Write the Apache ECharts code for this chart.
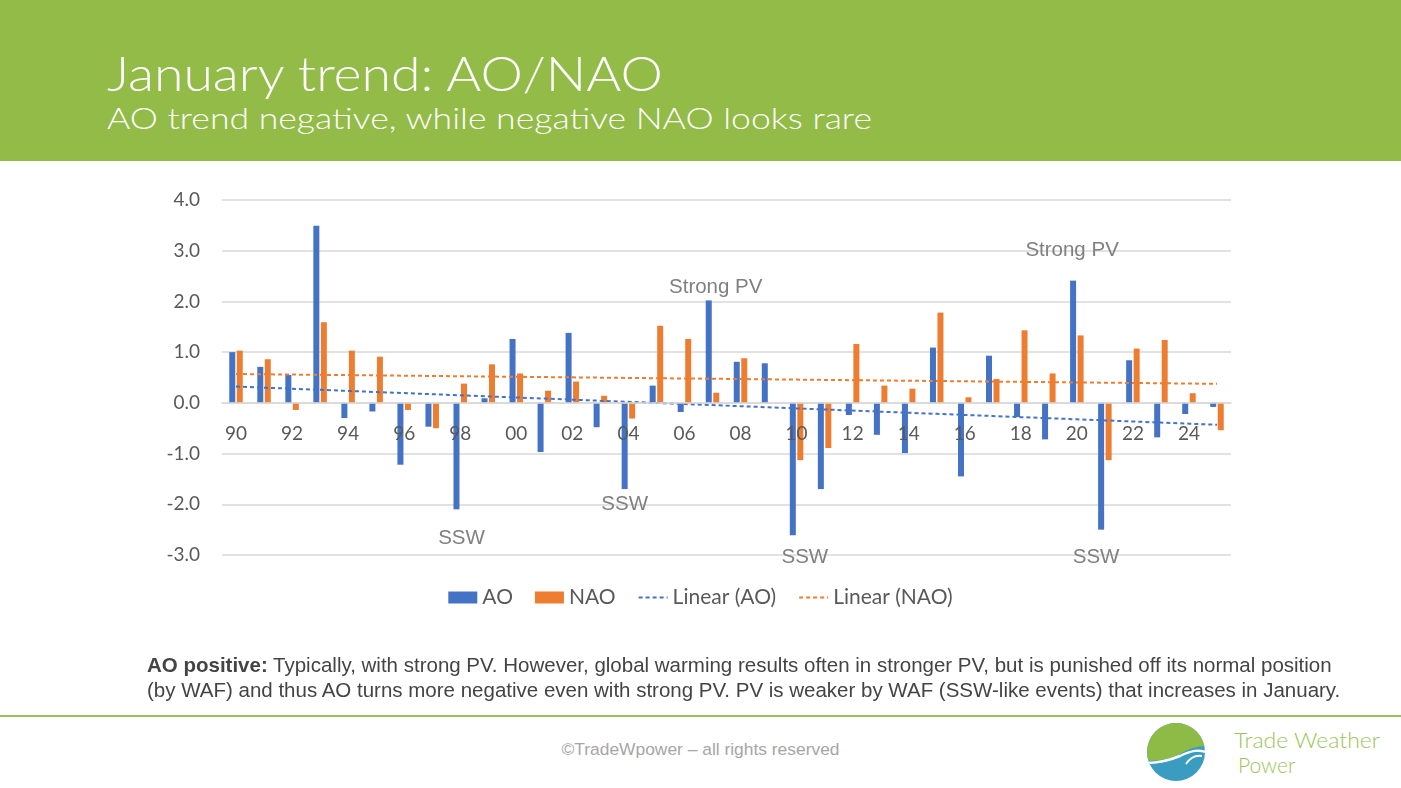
<!DOCTYPE html>
<html>
<head>
<meta charset="utf-8">
<script src="https://cdn.jsdelivr.net/npm/echarts@6/dist/echarts.min.js"></script>
<style>
  html,body{margin:0;padding:0;width:1401px;height:788px;overflow:hidden;background:#fff;}
  #hdr{position:absolute;left:0;top:0;width:1401px;height:161px;}
  #chart{position:absolute;left:0;top:161px;width:1401px;height:545px;}
  .note{position:absolute;left:147px;font-family:"Liberation Sans",Arial,sans-serif;font-size:20.5px;color:#444444;white-space:nowrap;line-height:25px;}
  #rule{position:absolute;left:0;top:715px;width:1401px;height:2px;background:#9cc35a;}
  #copy{position:absolute;left:0;width:1401px;top:739px;text-align:center;font-family:"Liberation Sans",Arial,sans-serif;font-size:17.4px;color:#a6a6a6;}
  #logo{position:absolute;left:1140px;top:718px;}
</style>
</head>
<body>
<svg id="hdr" width="1401" height="161">
  <rect x="0" y="0" width="1401" height="161" fill="#93bb48"/>
  <text x="107" y="91" font-family="Lato, 'Open Sans', sans-serif" font-weight="300" font-size="48" fill="#ffffff" textLength="556" lengthAdjust="spacingAndGlyphs">January trend: AO/NAO</text>
  <text x="107" y="129" font-family="Lato, 'Open Sans', sans-serif" font-weight="300" font-size="30" fill="#ffffff" textLength="765" lengthAdjust="spacingAndGlyphs">AO trend negative, while negative NAO looks rare</text>
</svg>
<div id="chart"></div>
<div class="note" style="top:652px;"><b>AO positive:</b> Typically, with strong PV. However, global warming results often in stronger PV, but is punished off its normal position</div>
<div class="note" style="top:677px;">(by WAF) and thus AO turns more negative even with strong PV. PV is weaker by WAF (SSW-like events) that increases in January.</div>
<div id="rule"></div>
<div id="copy">©TradeWpower – all rights reserved</div>
<svg id="logo" width="261" height="70">
  <defs><clipPath id="cc"><circle cx="36" cy="34" r="29"/></clipPath></defs>
  <g clip-path="url(#cc)">
    <rect x="0" y="0" width="80" height="80" fill="#3b9cc2"/>
    <path d="M0 0 H80 V32 C62 24 50 30 40 36 C30 41 18 44 0 42 Z" fill="#8dbb45"/>
    <path d="M0 45 C18 46 30 42 40 38 C50 33 60 30 70 36" stroke="#ffffff" stroke-width="2.5" fill="none"/>
    <path d="M46 46 C50 40 56 37 62 38" stroke="#ffffff" stroke-width="1.8" fill="none"/>
  </g>
  <text x="94" y="30" font-family="Lato, sans-serif" font-weight="300" font-size="21" fill="#9cc55a" textLength="146" lengthAdjust="spacingAndGlyphs">Trade Weather</text>
  <text x="98" y="55" font-family="Lato, sans-serif" font-weight="300" font-size="21" fill="#9cc55a">Power</text>
</svg>
<script>
// ---- data ----
const categories = ['90','91','92','93','94','95','96','97','98','99','00','01','02','03','04','05','06','07','08','09','10','11','12','13','14','15','16','17','18','19','20','21','22','23','24','25'];
const aoValues  = [1.00,0.71,0.55,3.49,-0.30,-0.17,-1.22,-0.47,-2.10,0.09,1.26,-0.97,1.38,-0.48,-1.70,0.34,-0.18,2.02,0.81,0.78,-2.61,-1.70,-0.24,-0.63,-0.99,1.09,-1.45,0.93,-0.28,-0.72,2.41,-2.50,0.84,-0.68,-0.22,-0.08];
const naoValues = [1.03,0.86,-0.14,1.59,1.03,0.91,-0.14,-0.50,0.38,0.76,0.58,0.24,0.42,0.14,-0.31,1.52,1.26,0.20,0.88,0.00,-1.13,-0.89,1.16,0.34,0.28,1.78,0.11,0.47,1.43,0.58,1.33,-1.13,1.07,1.24,0.19,-0.54];
const yTicks = [-3,-2,-1,0,1,2,3,4];
const annotationYears = ['98','04','07','10','20','21'];
const annotationTexts = ['SSW','SSW','Strong PV','SSW','Strong PV','SSW'];
const seriesNames = ['AO','NAO','Linear (AO)','Linear (NAO)'];

// ---- trend lines: least-squares fit ----
function linReg(v){
  const n=v.length; let mx=0,my=0;
  v.forEach((y,i)=>{mx+=i;my+=y;}); mx/=n; my/=n;
  let sxy=0,sxx=0;
  v.forEach((y,i)=>{sxy+=(i-mx)*(y-my); sxx+=(i-mx)*(i-mx);});
  const b=sxy/sxx;
  return v.map((_,i)=>+(my+b*(i-mx)).toFixed(4));
}

// label placement tweaks (style only)
const labelTweak = {
  '98':{distance:18,dx:5}, '04':{distance:5,dx:0}, '07':{distance:3,dx:7},
  '10':{distance:12,dx:12}, '20':{distance:20,dx:-1}, '21':{distance:17,dx:-5}
};

const aoData = aoValues.map((v,i)=>{
  const k = annotationYears.indexOf(categories[i]);
  if(k<0) return v;
  const t = labelTweak[categories[i]];
  return {value:v, label:{show:true, formatter:annotationTexts[k], position: v>=0?'top':'bottom',
    distance:t.distance, offset:[t.dx,0], color:'#808080', fontSize:20.5,
    fontFamily:'"Liberation Sans", Arial, sans-serif'}};
});

const GRID = {left:222, top:39, width:1009, height:355};
const chart = echarts.init(document.getElementById('chart'), null, {renderer:'canvas'});
const FONT = 'Lato, "Open Sans", sans-serif';
const lineLegendStyle = {opacity:0};
chart.setOption({
  animation:false,
  textStyle:{fontFamily:FONT},
  grid:Object.assign({containLabel:false}, GRID),
  legend:{
    top:421, left:'center', itemGap:22, itemWidth:29, itemHeight:12,
    textStyle:{color:'#595959', fontSize:21, fontFamily:FONT},
    data:[{name:seriesNames[0],icon:'rect'},{name:seriesNames[1],icon:'rect'},
          {name:seriesNames[2],itemStyle:lineLegendStyle},{name:seriesNames[3],itemStyle:lineLegendStyle}]
  },
  xAxis:{
    type:'category', data:categories, z:5,
    axisLine:{onZero:false, lineStyle:{color:'#d9d9d9', width:1.5}},
    axisTick:{show:false},
    axisLabel:{interval:1, margin:22, color:'#595959', fontSize:19, fontFamily:FONT},
    splitLine:{show:false}
  },
  yAxis:{
    type:'value', min:yTicks[0], max:yTicks[yTicks.length-1], interval:1,
    axisLine:{show:false}, axisTick:{show:false},
    axisLabel:{margin:22, color:'#595959', fontSize:19, fontFamily:FONT, formatter:v=>v.toFixed(1)},
    splitLine:{lineStyle:{color:'#d9d9d9', width:1.5}}
  },
  series:[
    {name:seriesNames[0], type:'bar', data:aoData, barWidth:6, barGap:'25%', itemStyle:{color:'#4472c4'}},
    {name:seriesNames[1], type:'bar', data:naoValues, barWidth:6, barGap:'25%', itemStyle:{color:'#ed7d31'}},
    {name:seriesNames[2], type:'line', data:linReg(aoValues), symbol:'none', z:4,
      lineStyle:{color:'#4472c4', width:2, type:[4,3]}, itemStyle:{color:'#4472c4'}},
    {name:seriesNames[3], type:'line', data:linReg(naoValues), symbol:'none', z:4,
      lineStyle:{color:'#ed7d31', width:2, type:[4,3]}, itemStyle:{color:'#ed7d31'}}
  ]
});
// move the category axis (line + labels) to the value-axis zero using the library's scale
const y0 = chart.convertToPixel({yAxisIndex:0}, 0);
const gridBottom = GRID.top + GRID.height;
chart.setOption({xAxis:{offset: y0 - gridBottom}});
</script>
</body>
</html>
